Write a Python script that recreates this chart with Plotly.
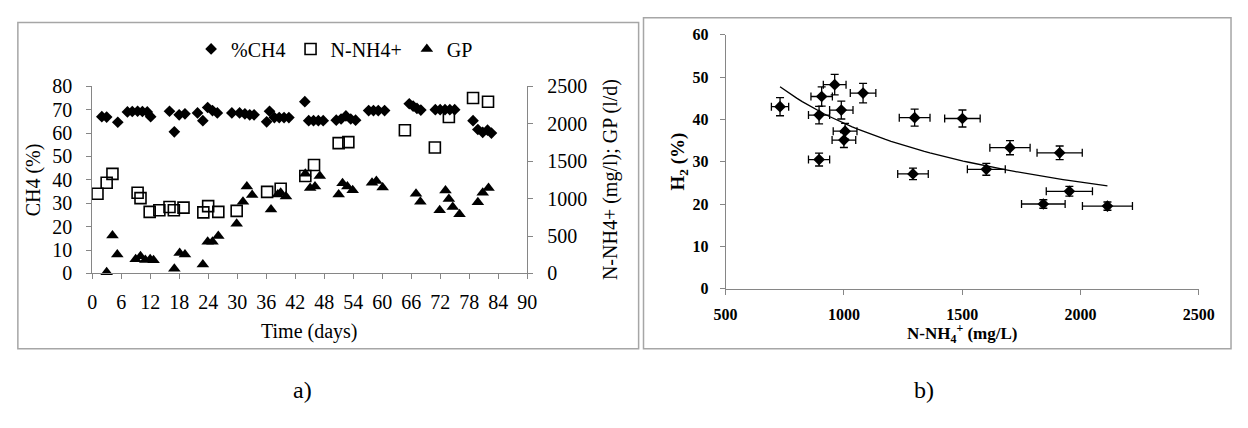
import numpy as np
import plotly.graph_objects as go

# ---------------- data: panel a) ----------------
ch4_days = [2, 3, 5.3, 7.3, 8.3, 9.4, 10.4, 11.4, 12.1, 16, 17, 18, 19.2, 21.8, 22.9, 23.9, 24.9, 25.9,
            28.9, 30.5, 31.6, 32.6, 33.5, 36.1, 36.7, 37.7, 38.7, 39.7, 40.7, 44, 44.8, 45.8, 46.8, 47.8,
            50.5, 51.5, 52.5, 53.5, 54.5, 57.2, 58.2, 59.2, 60.5, 65.6, 66.4, 67.2, 68, 71, 72, 73, 74, 75,
            78.8, 79.8, 80.8, 81.8, 82.6]
ch4_vals = [67, 66.8, 64.6, 69, 69.2, 69.3, 69.2, 69, 67, 69.3, 60.5, 67.8, 68.2, 68.6, 65.3, 70.9, 69.6, 68.6,
            68.6, 68.6, 68.2, 67.8, 67.8, 64.8, 69.3, 66.6, 66.6, 66.6, 66.6, 73.4, 65.3, 65.3, 65.3, 65.3,
            65.5, 66, 67.3, 66, 65.5, 69.6, 69.6, 69.6, 69.6, 72.5, 71.5, 70.5, 69.8, 70, 70, 70, 70, 70,
            65.3, 61.5, 60.3, 61.2, 60.0]

nh4_days = [1.1, 3.0, 4.2, 9.4, 10.0, 11.9, 13.9, 16.0, 16.9, 18.9, 23.0, 24.0, 26.1, 29.9, 36.2, 39.0,
            44.1, 45.9, 51.0, 53.0, 64.7, 70.9, 73.8, 78.8, 81.9]
nh4_vals = [1064, 1212, 1330, 1077, 1006, 823, 845, 887, 845, 879, 816, 899, 823, 836, 1089, 1132,
            1301, 1449, 1740, 1753, 1912, 1681, 2090, 2343, 2292]

gp_days = [3.0, 4.2, 5.2, 9.0, 10.0, 11.0, 12.0, 12.7, 17.0, 18.1, 19.2, 22.9, 23.9, 24.9, 26.1, 29.9,
           31.2, 32.0, 33.1, 37.0, 38.4, 39.0, 40.1, 44.1, 45.1, 46.1, 47.1, 51.0, 51.8, 52.8, 53.9,
           57.9, 58.8, 60.1, 67.0, 67.9, 71.9, 73.1, 73.8, 74.6, 76.0, 79.8, 80.8, 82.0]
gp_vals = [15, 507, 253, 190, 230, 180, 190, 175, 63, 275, 253, 119, 423, 423, 499, 664,
           959, 1161, 1047, 853, 1056, 1077, 1026, 1330, 1140, 1161, 1301, 1056, 1203, 1161, 1111,
           1212, 1234, 1149, 1064, 959, 845, 1107, 993, 887, 790, 950, 1077, 1140]

day_ticks = list(range(0, 91, 6))
ch4_ticks = list(range(0, 81, 10))
right_ticks = list(range(0, 2501, 500))

# ---------------- data: panel b) ----------------
b_nh4 = [730, 895, 906, 961, 989, 1000, 1005, 895, 1081, 1299, 1292, 1501, 1602, 1702, 1912, 1843, 1953, 2114]
b_h2 = [43.0, 41.0, 45.4, 48.2, 42.2, 35.1, 37.2, 30.5, 46.2, 40.4, 27.1, 40.2, 28.2, 33.3, 32.1, 20.0, 23.0, 19.5]
err_pct = 5
b_xticks = [500, 1000, 1500, 2000, 2500]
b_yticks = [0, 10, 20, 30, 40, 50, 60]

# power trend line fitted on the data (Excel-like)
bx = np.array(b_nh4, float)
by = np.array(b_h2, float)
slope, inter = np.polyfit(np.log(bx), np.log(by), 1)
tx = np.linspace(bx.min(), bx.max(), 60)
ty = np.exp(inter) * tx ** slope

W, H = 1248, 428
def px(x): return x / W
def py(y): return 1 - y / H

GRAY = "#868686"
SERIF = "Liberation Serif"

fig = go.Figure()
fig.add_trace(go.Scatter(x=ch4_days, y=ch4_vals, mode="markers", name="%CH4",
                         marker=dict(symbol="diamond", size=9, color="black"),
                         xaxis="x", yaxis="y", cliponaxis=False))
fig.add_trace(go.Scatter(x=nh4_days, y=nh4_vals, mode="markers", name="N-NH4+",
                         marker=dict(symbol="square-open", size=11, color="black", line=dict(width=1.6)),
                         xaxis="x", yaxis="y2", cliponaxis=False))
fig.add_trace(go.Scatter(x=gp_days, y=gp_vals, mode="markers", name="GP",
                         marker=dict(symbol="triangle-up", size=11, color="black"),
                         xaxis="x", yaxis="y2", cliponaxis=False))

fig.add_trace(go.Scatter(x=b_nh4, y=b_h2, mode="markers", showlegend=False,
                         marker=dict(symbol="diamond", size=9, color="black"),
                         error_x=dict(type="percent", value=err_pct, color="black", thickness=1.3, width=4),
                         error_y=dict(type="percent", value=err_pct, color="black", thickness=1.3, width=4),
                         xaxis="x3", yaxis="y3", cliponaxis=False))
fig.add_trace(go.Scatter(x=tx, y=ty, mode="lines", showlegend=False,
                         line=dict(color="black", width=1.3), xaxis="x3", yaxis="y3"))

ax_common = dict(showgrid=False, zeroline=False, showline=True, linecolor=GRAY, linewidth=1,
                 ticks="outside", ticklen=5, tickcolor=GRAY, tickwidth=1)
fA = dict(family=SERIF, size=20, color="black")
fB = dict(family=SERIF, size=16, color="black", weight="bold")

fig.update_layout(
    width=W, height=H, margin=dict(l=0, r=0, t=0, b=0),
    paper_bgcolor="white", plot_bgcolor="white",
    showlegend=True,
    legend=dict(orientation="h", x=px(330), xanchor="center", y=py(40), yanchor="middle",
                font=dict(family=SERIF, size=20, color="black"), itemwidth=30,
                bgcolor="rgba(0,0,0,0)", traceorder="normal"),
    xaxis=dict(domain=[px(82), px(527)], range=[0, 90], tickvals=day_ticks, tickfont=fA,
               anchor="y", ticklabelstandoff=6, **ax_common),
    yaxis=dict(domain=[py(276.7), py(79.3)], range=[0, 80], tickvals=ch4_ticks, tickfont=fA,
               anchor="x", ticklabelstandoff=10, **ax_common),
    yaxis2=dict(range=[0, 2500], tickvals=right_ticks, tickfont=fA, overlaying="y", side="right",
                anchor="x", ticklabelstandoff=10, **ax_common),
    xaxis3=dict(domain=[px(730), px(1214)], range=[500, 2500], tickvals=b_xticks, tickfont=fB,
                anchor="y3", ticklabelstandoff=6, **ax_common),
    yaxis3=dict(domain=[py(292.7), py(25)], range=[0, 60], tickvals=b_yticks, tickfont=fB,
                anchor="x3", ticklabelstandoff=8, **ax_common),
)

# panel frames
fig.add_shape(type="rect", xref="paper", yref="paper", x0=px(6), x1=px(641), y0=py(356), y1=py(12),
              line=dict(color="#a6a6a6", width=1.5))
fig.add_shape(type="rect", xref="paper", yref="paper", x0=px(646), x1=px(1247), y0=py(356), y1=py(7),
              line=dict(color="#a6a6a6", width=1.5))

ann = [
    dict(text="CH4 (%)", x=px(22), y=py(178), textangle=-90, font=fA),
    dict(text="N-NH4+ (mg/l); GP (l/d)", x=px(613), y=py(178), textangle=-90, font=fA),
    dict(text="Time (days)", x=px(304), y=py(338), font=fA),
    dict(text="H<sub>2</sub> (%)", x=px(682), y=py(159), textangle=-90,
         font=dict(family=SERIF, size=19, color="black", weight="bold")),
    dict(text="N-NH<sub>4</sub><sup>+</sup> (mg/L)", x=px(972), y=py(340),
         font=dict(family=SERIF, size=17, color="black", weight="bold")),
    dict(text="a)", x=px(297), y=py(400), font=dict(family=SERIF, size=24, color="black")),
    dict(text="b)", x=px(933), y=py(400), font=dict(family=SERIF, size=24, color="black")),
]
for a in ann:
    fig.add_annotation(xref="paper", yref="paper", showarrow=False, xanchor="center", yanchor="middle", **a)

fig.write_html("out.html")
